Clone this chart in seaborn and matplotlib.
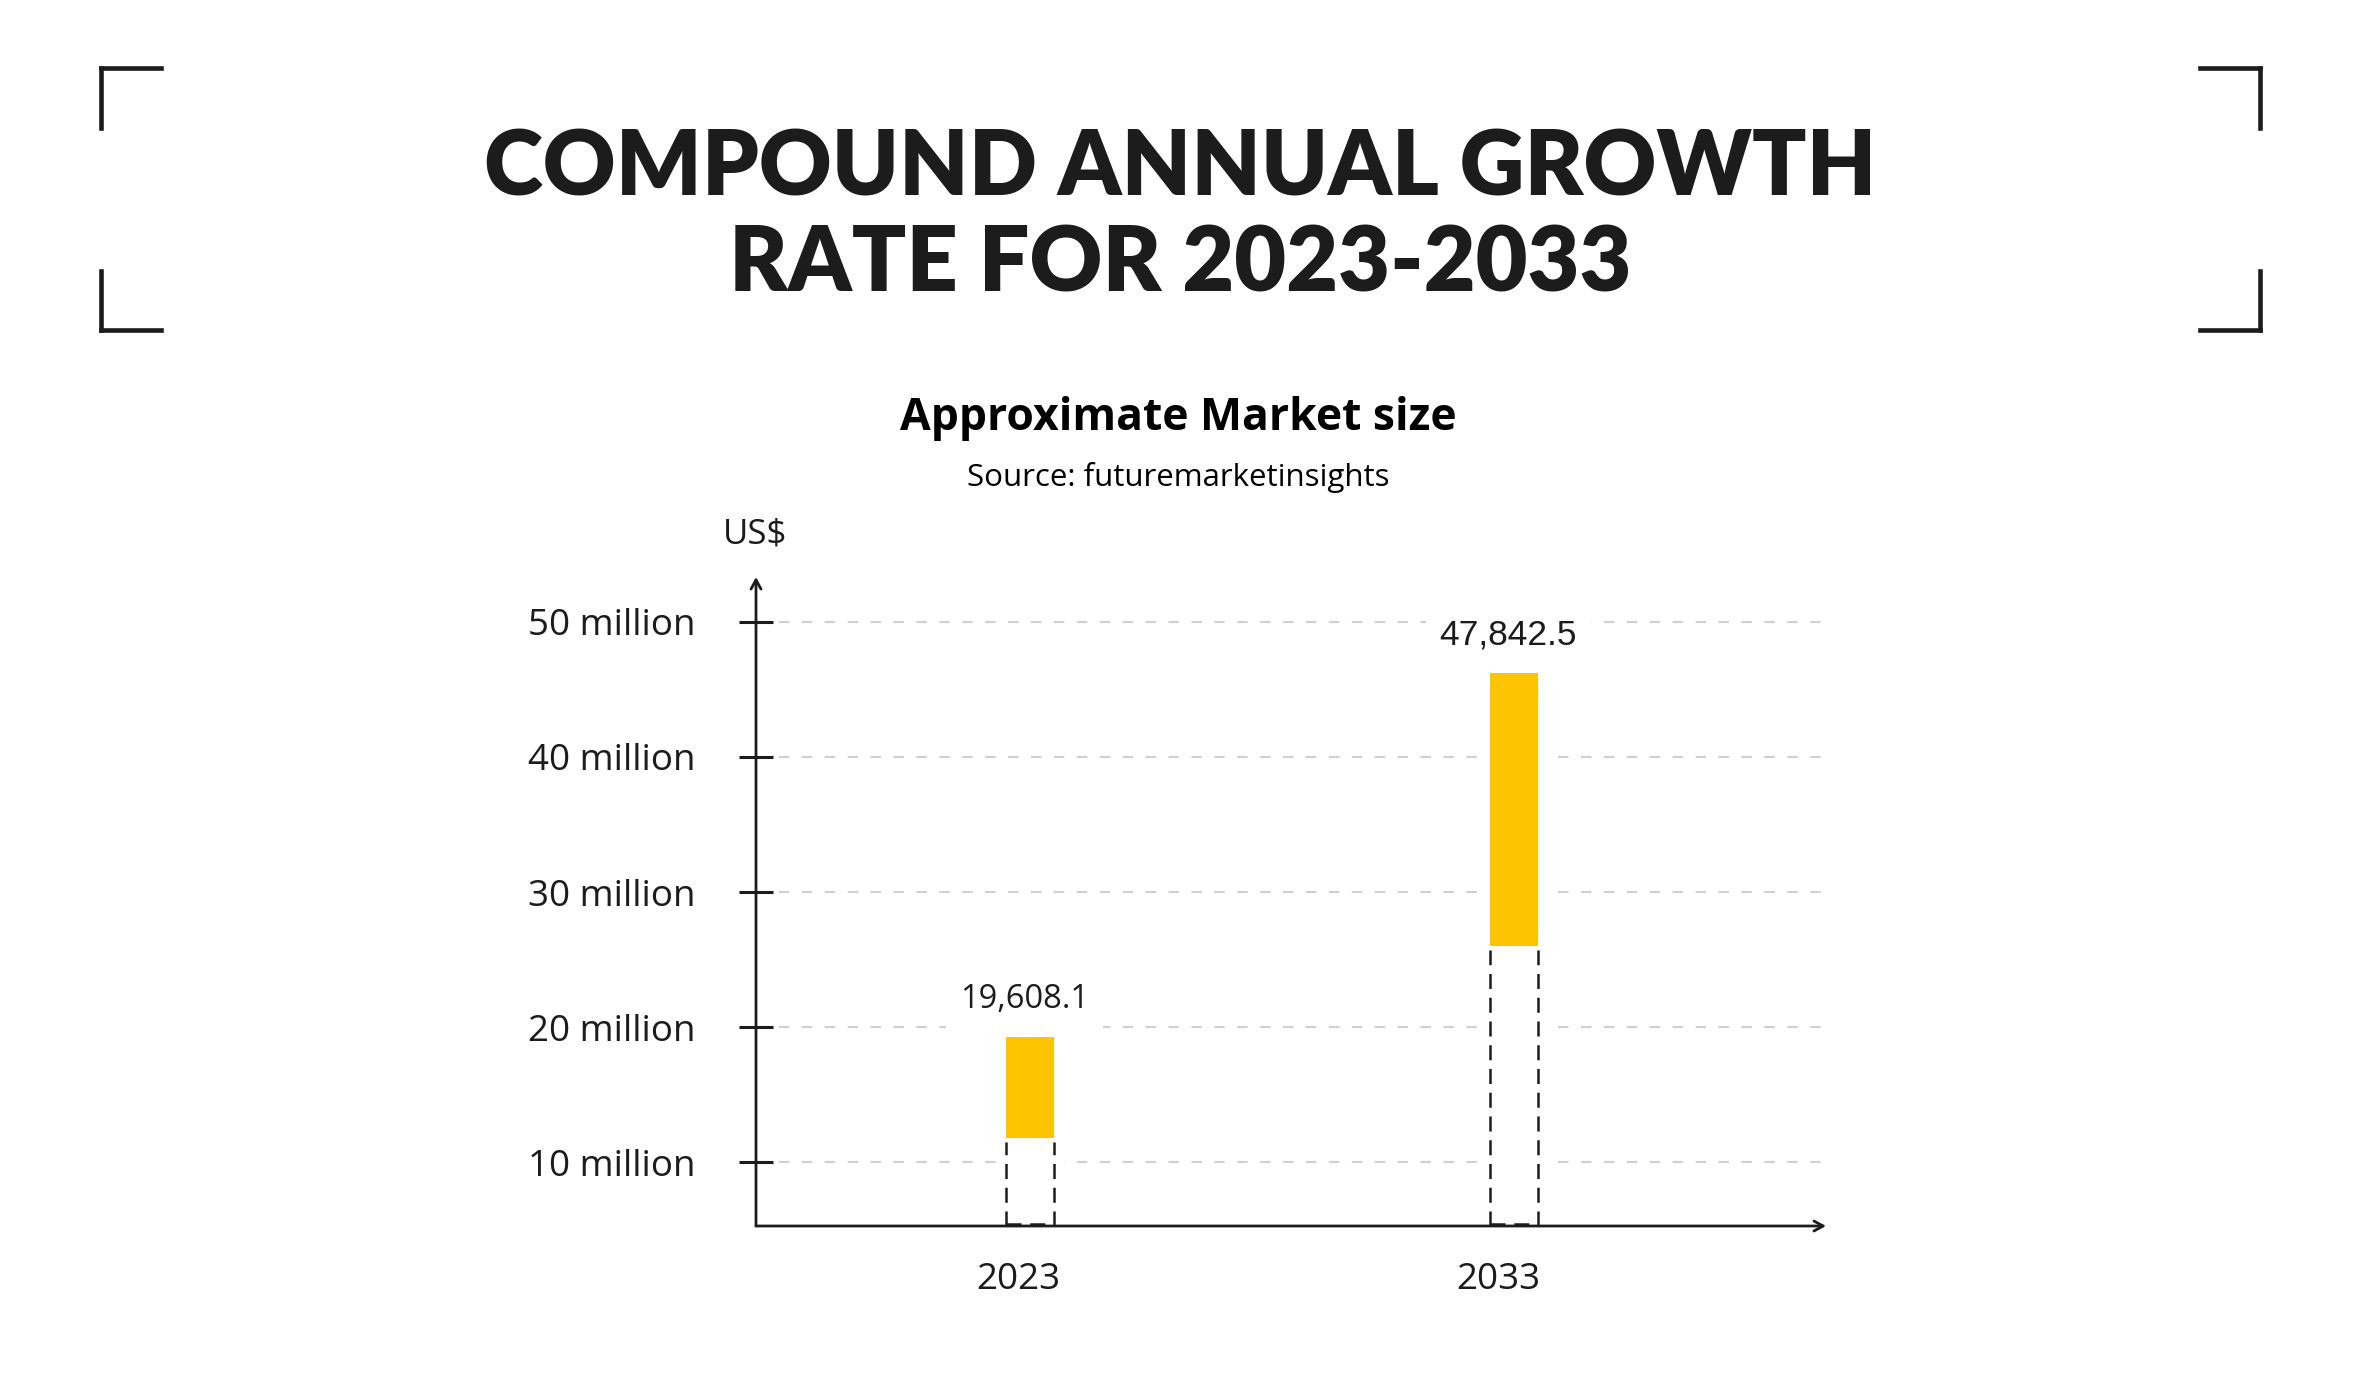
import matplotlib
matplotlib.use("Agg")
import matplotlib.pyplot as plt
import seaborn as sns
import pandas as pd
from matplotlib.lines import Line2D

# ---- data (US$ million) ----
years = ["2023", "2033"]
bar_low = [11.8, 26.0]
bar_high = [19.3, 46.2]
value_labels = ["19,608.1", "47,842.5"]
y_ticks = [10, 20, 30, 40, 50]
y_tick_labels = ["10 million", "20 million", "30 million", "40 million", "50 million"]

title_lines = ["COMPOUND ANNUAL GROWTH", "RATE FOR 2023-2033"]
subtitle = "Approximate Market size"
source = "Source: futuremarketinsights"
unit = "US$"

sns.set_theme(style="white")
plt.rcParams["font.family"] = ["Open Sans", "DejaVu Sans"]

W, H = 2361, 1386
INK = "#1c1c1c"
YEL = "#FCC500"

fig = plt.figure(figsize=(W / 100, H / 100), dpi=100)
fig.patch.set_facecolor("white")

def fx(x):
    return x / W

def fy(y):
    return 1 - y / H

ax = fig.add_axes([fx(756), fy(1226), (1826 - 756) / W, (1226 - 577) / H])
ax.set_facecolor("white")

df = pd.DataFrame({"year": years, "low": bar_low, "high": bar_high})

# white halo bar (breaks the grid lines around the bars)
sns.barplot(data=df, x="year", y="high", color="white", width=0.14, ax=ax,
            zorder=2, saturation=1, linewidth=0, errorbar=None)
sns.barplot(data=df, x="year", y="high", color=YEL, width=0.10, ax=ax,
            zorder=3, saturation=1, linewidth=0, errorbar=None)
n0 = len(ax.patches)
sns.barplot(data=df, x="year", y="low", color="white", width=0.10, ax=ax,
            zorder=4, saturation=1, linewidth=0, errorbar=None)

ymin, ymax = 5.3, 53.3
ax.set_ylim(ymin, ymax)
ax.set_xlim(-0.566, 1.645)

for p in ax.patches[n0:]:
    x0 = p.get_x()
    x1 = x0 + p.get_width()
    top = p.get_y() + p.get_height()
    ax.vlines([x0, x1], ymin, top - 0.3, colors=INK, linewidth=1.8,
              linestyles=(0, (6, 3.5)), zorder=5)
    ax.hlines([ymin + 0.15], x0, x1, colors=INK, linewidth=1.8,
              linestyles=(0, (6, 3.5)), zorder=5)

# value labels
label_fonts = [["Open Sans", "DejaVu Sans"], ["Liberation Sans", "DejaVu Sans"]]
label_sizes = [23.5, 25.5]
for i, (h, lab) in enumerate(zip(bar_high, value_labels)):
    ax.annotate(lab, xy=(i, h), xytext=(-4, 27), textcoords="offset points",
                ha="center", va="center", fontsize=label_sizes[i],
                family=label_fonts[i], color=INK, zorder=7,
                bbox=dict(fc="white", ec="none", pad=10))

# axes styling
for s in ax.spines.values():
    s.set_visible(False)
ax.set_xlabel("")
ax.set_ylabel("")
ax.set_yticks(y_ticks, y_tick_labels)
ax.tick_params(axis="y", left=True, direction="inout", length=24, width=2.2,
               color=INK, pad=152, labelsize=26.5, labelcolor=INK)
for t in ax.get_yticklabels():
    t.set_ha("left")
ax.set_xticks([-0.023, 0.967], years)
ax.tick_params(axis="x", bottom=False, pad=20, labelsize=26.5, labelcolor=INK)
ax.yaxis.grid(True, color="#d0d0d0", linewidth=1.5, linestyle=(0, (5, 6)))
ax.xaxis.grid(False)
ax.set_axisbelow(True)

arrow = dict(arrowstyle="->,head_length=0.55,head_width=0.3", lw=2.0,
             color=INK, shrinkA=0, shrinkB=0)
ax.annotate("", xy=(0, 1), xytext=(0, 0), xycoords="axes fraction",
            arrowprops=arrow, zorder=6)
ax.annotate("", xy=(1, 0), xytext=(0, 0), xycoords="axes fraction",
            arrowprops=arrow, zorder=6)

# titles
title_font = ["Lato", "DejaVu Sans"]
fig.text(0.5, fy(196), title_lines[0], ha="center", va="baseline",
         fontsize=64.5, fontweight="heavy", family=title_font, color=INK)
fig.text(0.5, fy(292), title_lines[1], ha="center", va="baseline",
         fontsize=64.5, fontweight="heavy", family=title_font, color=INK)
fig.text(fx(1178), fy(430), subtitle, ha="center", va="baseline",
         fontsize=32, fontweight="bold", color="#000000")
fig.text(fx(1178), fy(486), source, ha="center", va="baseline",
         fontsize=22.5, color="#000000")
fig.text(fx(723), fy(543), unit, ha="left", va="baseline",
         fontsize=25, color=INK)

# corner brackets
lw_b = 3.3
segs = [
    ((101, 68), (161, 68)), ((101, 68), (101, 128)),
    ((101, 330), (161, 330)), ((101, 271), (101, 330)),
    ((2200, 68), (2260, 68)), ((2260, 68), (2260, 128)),
    ((2200, 330), (2260, 330)), ((2260, 271), (2260, 330)),
]
for (xa, ya), (xb, yb) in segs:
    fig.add_artist(Line2D([fx(xa), fx(xb)], [fy(ya), fy(yb)], lw=lw_b,
                          color=INK, solid_capstyle="projecting"))

fig.savefig("out.png", dpi=100, facecolor="white")
